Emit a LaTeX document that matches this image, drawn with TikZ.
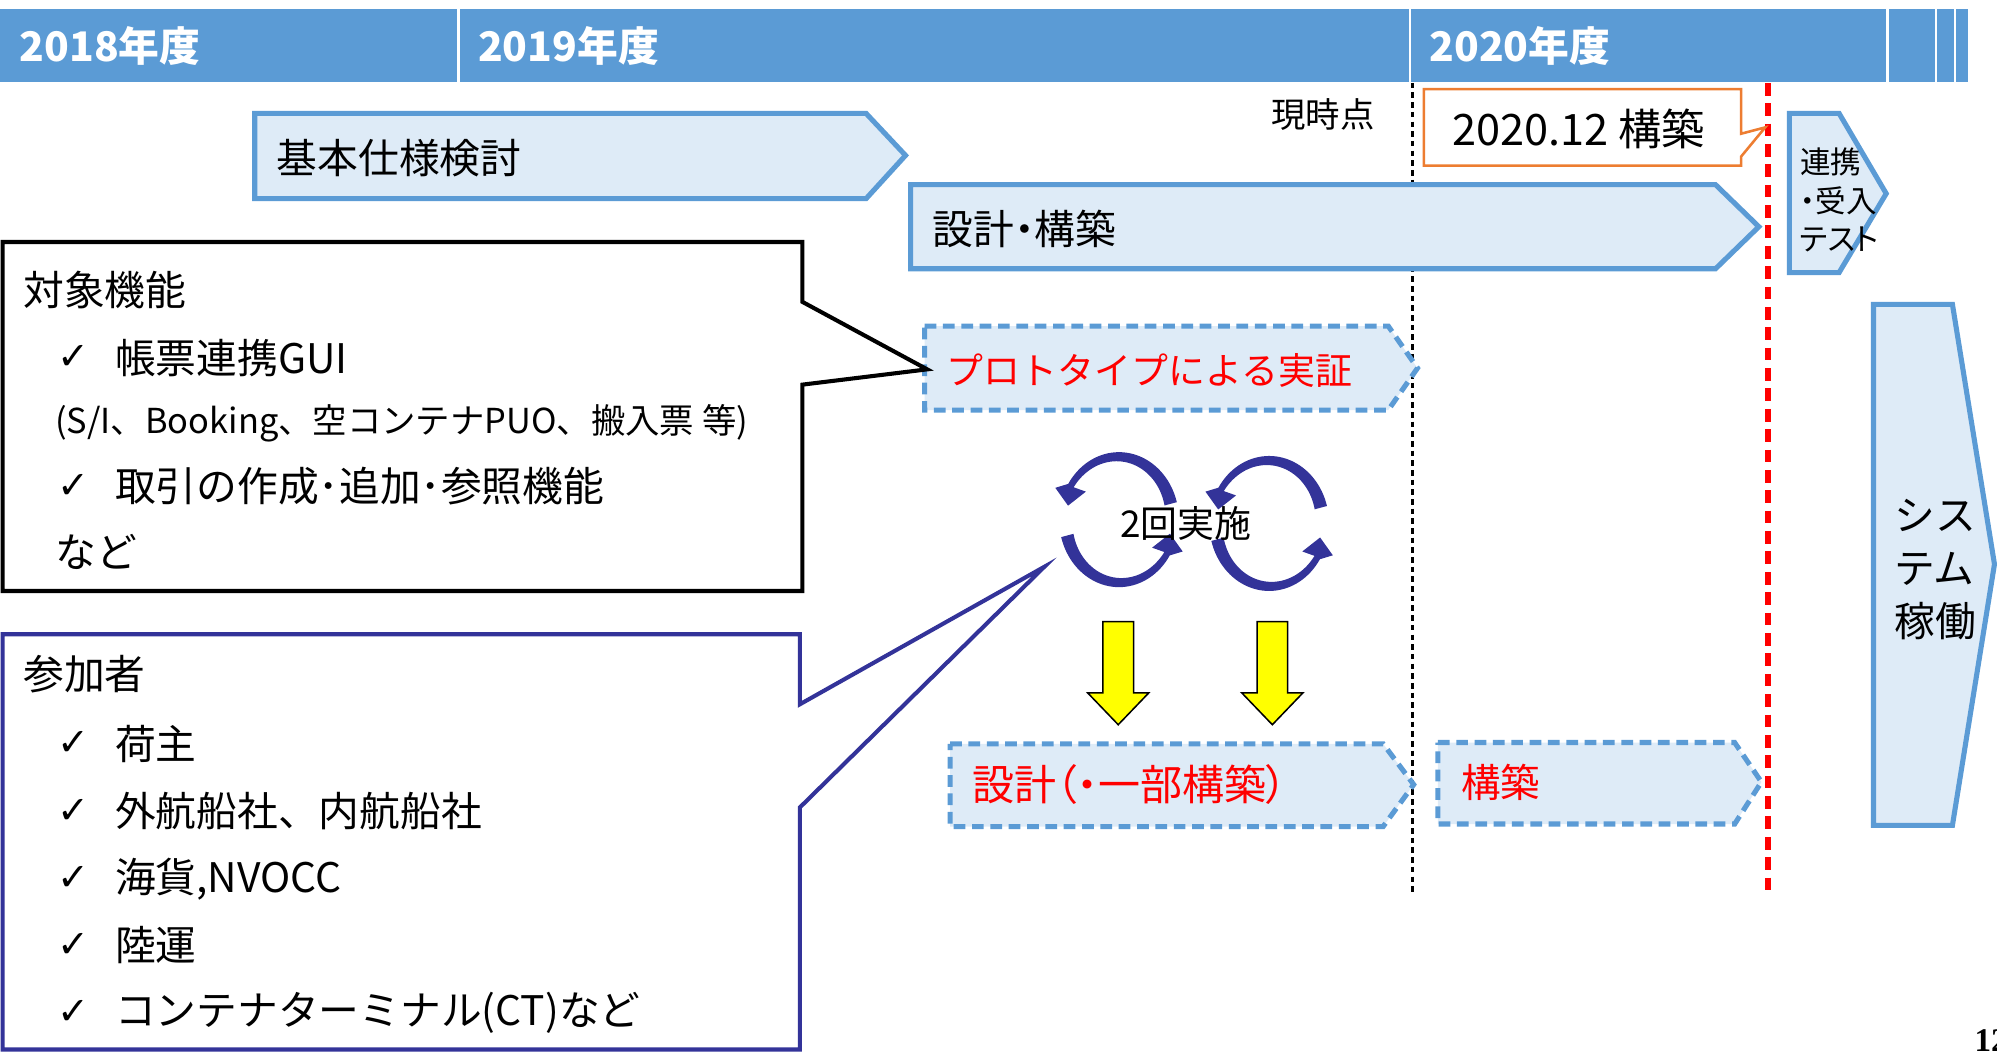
\documentclass[tikz,border=0pt]{standalone}
\usepackage{fontspec}
\setmainfont{Noto Sans CJK JP}
\newfontfamily\pfont{Noto Sans CJK JP}[RawFeature=+palt]
\newfontfamily\chkfont{DejaVu Sans}
\newfontfamily\pgnumfont{Liberation Serif}
\definecolor{hdrblue}{HTML}{5B9BD5}
\definecolor{lightfill}{HTML}{DEEBF7}
\definecolor{navyc}{HTML}{333399}
\definecolor{orng}{HTML}{ED7D31}
\definecolor{yel}{HTML}{FFFF00}
\definecolor{redc}{HTML}{FF0000}
\begin{document}
\begin{tikzpicture}[x=0.5pt,y=-0.5pt,
  phase/.style={draw=hdrblue, fill=lightfill, line width=2pt, line join=miter},
  dphase/.style={draw=hdrblue, fill=lightfill, line width=2pt, dash pattern=on 4.6pt off 2.6pt},
  lbl/.style={anchor=west, inner sep=0pt, font=\fontsize{#1}{#1}\selectfont},
  plbl/.style={anchor=west, inner sep=0pt, font=\pfont\fontsize{#1}{#1}\selectfont},
  hlbl/.style={anchor=west, inner sep=0pt, text=white, font=\bfseries\fontsize{16}{16}\selectfont},
  chkmark/.style={anchor=west, inner sep=0pt, font=\chkfont\fontsize{15}{15}\selectfont},
  yarrow/.style={fill=yel, draw=black, line width=0.6pt, line join=miter},
  cyc/.pic={
    \fill[navyc] plot[domain=15:148,samples=40,variable=\a] ({47*cos(\a)},{-53*sin(\a)})
      -- (-50,-25) -- (-40,-11) -- (-26,-22)
      -- plot[domain=148:15,samples=40,variable=\a] ({(37+5*(\a-15)/133)*cos(\a)},{-(43+5*(\a-15)/133)*sin(\a)}) -- cycle;
    \begin{scope}[rotate=180]
    \fill[navyc] plot[domain=15:148,samples=40,variable=\a] ({47*cos(\a)},{-53*sin(\a)})
      -- (-50,-25) -- (-40,-11) -- (-26,-22)
      -- plot[domain=148:15,samples=40,variable=\a] ({(37+5*(\a-15)/133)*cos(\a)},{-(43+5*(\a-15)/133)*sin(\a)}) -- cycle;
    \end{scope}
  }
]
\useasboundingbox (0,0) rectangle (1568,827);

% header bar
\fill[hdrblue] (0,7) rectangle (1545,64);
\foreach \xx in {360,1107,1482,1520,1535}
  \draw[white, line width=0.8pt] (\xx,7) -- (\xx,64);
\node[hlbl] (y18) at (15,36) {2018年度};
\node[hlbl] (y19) at (375,36) {2019年度};
\node[hlbl] (y20) at (1122,36) {2020年度};

% vertical lines
\coordinate (nowtop) at (1109,65);
\coordinate (nowbot) at (1109,703);
\draw[black, line width=1pt, dash pattern=on 2.2pt off 1.6pt] (nowtop) -- (nowbot);
\coordinate (endtop) at (1388,65);
\coordinate (endbot) at (1388,703);

\node[lbl=13.5] (now) at (998,90) {現時点};

% phase arrows
\draw[phase] (200,89) -- (680,89) -- (711,122) -- (680,156) -- (200,156) -- cycle;
\node[lbl=16] (kihon) at (217,124) {基本仕様検討};
\draw[phase] (715,145) -- (1347,145) -- (1381,178) -- (1347,211) -- (715,211) -- cycle;
\node[plbl=16] (sekkei) at (732,180) {設計・構築};
\draw[phase] (1405,89) -- (1444,89) -- (1481,152) -- (1444,214) -- (1405,214) -- cycle;
\node[plbl=12] (rk1) at (1413,127) {連携};
\node[plbl=12] (rk2) at (1413,158) {・受入};
\node[plbl=12] (rk3) at (1413,188) {テスト};
\draw[phase] (1471,239) -- (1533,239) -- (1566,443) -- (1533,648) -- (1471,648) -- cycle;
\node[lbl=16] (sys1) at (1487,405) {シス};
\node[lbl=16] (sys2) at (1487,447) {テム};
\node[lbl=16] (sys3) at (1487,488) {稼働};

% dashed phase arrows
\draw[dphase] (726,256) -- (1090,256) -- (1113,289) -- (1090,322) -- (726,322) -- cycle;
\node[lbl=14.5, text=redc] (proto) at (743,291) {プロトタイプによる実証};
\draw[dphase] (746,584) -- (1086,584) -- (1110,616) -- (1086,649) -- (746,649) -- cycle;
\node[plbl=16.5, text=redc] (sekkei2) at (763,616) {設計（・一部構築）};
\draw[dphase] (1129,583) -- (1362,583) -- (1383,614) -- (1362,647) -- (1129,647) -- cycle;
\node[lbl=15.5, text=redc] (kochiku) at (1147,614) {構築};

% red dashed line (end of construction)
\draw[redc, line width=2.2pt, dash pattern=on 5pt off 3pt] (endtop) -- (endbot);

% orange callout
\draw[orng, line width=1pt, fill=white, line join=miter] (1118,70) -- (1367,70) -- (1367,105) -- (1386,100) -- (1367,123) -- (1367,130) -- (1118,130) -- cycle;
\node[lbl=17] (c2020) at (1140,101) {2020.12 構築};

% cycle arrows
\pic at (878.6,408) {cyc};
\pic at (996.5,411) {cyc};
\node[lbl=14.5] (twice) at (879,411) {2回実施};

% yellow arrows
\draw[yarrow] (866,488) -- (890,488) -- (890,544) -- (902,544) -- (878,569) -- (854,544) -- (866,544) -- cycle;
\draw[yarrow] (987,488) -- (1011,488) -- (1011,544) -- (1023,544) -- (999,569) -- (975,544) -- (987,544) -- cycle;

% callout: target functions
\draw[black, line width=1.6pt, fill=white, line join=miter] (2,190) -- (630,190) -- (630,237) -- (728,290) -- (630,302) -- (630,464) -- (2,464) -- cycle;
\node[lbl=16] (tf) at (18,228) {対象機能};
\node[chkmark] (ck1) at (45,281) {✓};
\node[lbl=16] (tf1) at (90,281) {帳票連携GUI};
\node[lbl=13.5] (tf2) at (43,332) {(S/I、Booking、空コンテナPUO、搬入票 等)};
\node[chkmark] (ck2) at (45,382) {✓};
\node[lbl=16] (tf3) at (90,382) {取引の作成･追加･参照機能};
\node[lbl=16] (tf4) at (43,433) {など};

% callout: participants
\draw[navyc, line width=1.6pt, fill=white, line join=miter] (2,498) -- (628,498) -- (628,553) -- (820,445) -- (628,634) -- (628,824) -- (2,824) -- cycle;
\node[lbl=16] (pa) at (18,529) {参加者};
\node[chkmark] (ck3) at (45,584) {✓};
\node[lbl=16] (pa1) at (90,584) {荷主};
\node[chkmark] (ck4) at (45,637) {✓};
\node[lbl=16] (pa2) at (90,637) {外航船社、内航船社};
\node[chkmark] (ck5) at (45,690) {✓};
\node[lbl=16] (pa3) at (90,690) {海貨,NVOCC};
\node[chkmark] (ck6) at (45,742) {✓};
\node[lbl=16] (pa4) at (90,742) {陸運};
\node[chkmark] (ck7) at (45,795) {✓};
\node[lbl=16] (pa5) at (90,795) {コンテナターミナル(CT)など};

% page number (cut off at the corner, as in the reference)
\node[anchor=north west, inner sep=0pt, font=\pgnumfont\bfseries\fontsize{13}{13}\selectfont] (pg) at (1550,808) {12};
\end{tikzpicture}
\end{document}
